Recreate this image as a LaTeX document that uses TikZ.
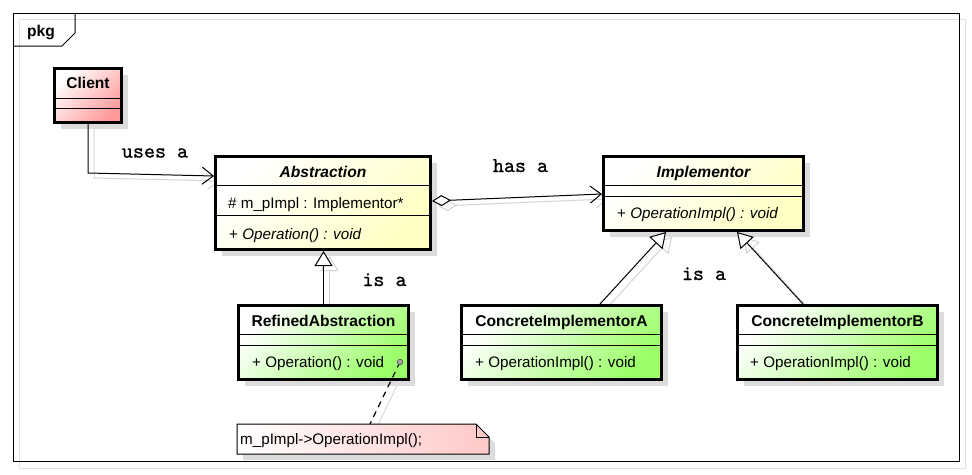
\documentclass[tikz,border=0pt]{standalone}
\usepackage{fontspec}
\setmainfont{Liberation Sans}
\newfontfamily\labfont{lmmono10-regular.otf}[FakeBold=0.8]
\usetikzlibrary{arrows.meta,calc,shadows}
\definecolor{boxshadow}{HTML}{DCDCDC}
\definecolor{lineshadow}{HTML}{D4D4D4}
\definecolor{frameshadow}{HTML}{E2E2E2}
\definecolor{clientred}{HTML}{FF9A9A}
\definecolor{abstrYellow}{HTML}{FFFFC4}
\definecolor{concGreen}{HTML}{9CFF6A}
\definecolor{notePink}{HTML}{FFC8C8}
\newcommand{\regtext}{\fontsize{15.2}{17}\selectfont}
\newcommand{\boldtext}{\fontsize{15.6}{17}\selectfont\bfseries}
\newcommand{\labtext}{\fontsize{21}{22}\selectfont\labfont}
\begin{document}
\begin{tikzpicture}[x=1pt,y=-1pt,
  classbox/.style={draw=black, line width=3pt, inner sep=0pt, anchor=north west,
    drop shadow={shadow xshift=6pt, shadow yshift=-6pt, fill=boxshadow, opacity=1}},
  redbox/.style={classbox, top color=white, bottom color=clientred, shading angle=45},
  yellowbox/.style={classbox, top color=white, bottom color=abstrYellow, shading angle=45},
  greenbox/.style={classbox, top color=white, bottom color=concGreen, shading angle=45},
  sepline/.style={line width=1pt, black},
  titletext/.style={anchor=base, inner sep=0pt, font=\boldtext},
  itemtext/.style={anchor=base west, inner sep=0pt, font=\regtext},
  lbl/.style={inner sep=0pt, font=\labtext},
  assoc/.style={line width=1pt, -{Straight Barb[length=11pt, width=17pt, line width=1pt]}},
  aggr/.style={line width=1pt, {Diamond[open, length=19pt, width=11pt, line width=1pt, fill=white]}-{Straight Barb[length=11pt, width=17pt, line width=1pt]}},
  gener/.style={line width=1pt, -{Triangle[open, length=15pt, width=18pt, line width=1pt, fill=white]}},
  shadowline/.style={draw=lineshadow, transform canvas={shift={(6,5)}}},
]
\useasboundingbox (0,0) rectangle (972,474);
\fill[white] (0,0) rectangle (972,474);

% package frame
\draw[frameshadow, line width=1pt] (19.5,19.5) rectangle (965,468);
\draw[black, line width=1pt] (13,13) rectangle (959,461);
\draw[black, line width=1pt] (13,46) -- (62,46) -- (75,33) -- (75,13);
\node[anchor=base, inner sep=0pt, font=\boldtext] (pkg) at (41,36.5) {pkg};

% coordinates for connectors
\coordinate (c1) at (88,173);
\coordinate (absL) at (214,176);
\coordinate (absR) at (432,201);
\coordinate (impL) at (602,194);
\coordinate (impA) at (666,232);
\coordinate (impB) at (737,232);
\coordinate (absB) at (323.5,251);
\coordinate (refT) at (323.5,304);
\coordinate (caT) at (600,304);
\coordinate (cbT) at (803,304);
\coordinate (dotc) at (400,362);
\coordinate (noteT) at (370,424);

% connector shadows
\draw[shadowline, line width=1pt, -{Straight Barb[length=11pt, width=17pt, line width=1pt]}] (88,124) -- (c1) -- (absL);
\draw[shadowline, line width=1pt, {Diamond[open, length=19pt, width=11pt, line width=1pt, fill=white]}-{Straight Barb[length=11pt, width=17pt, line width=1pt]}] (absR) -- (impL);
\draw[shadowline, line width=1pt, -{Triangle[open, length=15pt, width=18pt, line width=1pt, fill=white]}] (refT) -- (absB);
\draw[shadowline, line width=1pt, -{Triangle[open, length=15pt, width=18pt, line width=1pt, fill=white]}] (caT) -- (impA);
\draw[shadowline, line width=1pt, -{Triangle[open, length=15pt, width=18pt, line width=1pt, fill=white]}] (cbT) -- (impB);
\draw[shadowline, line width=0.8pt] (dotc) -- (noteT);

% Client
\node[redbox, minimum width=67pt, minimum height=54pt] (cl) at (53,67) {};
\draw[sepline] ($(cl.north west)+(0,31)$) -- ($(cl.north east)+(0,31)$);
\draw[sepline] ($(cl.north west)+(0,41)$) -- ($(cl.north east)+(0,41)$);
\node[titletext] (clT) at (88,88.3) {Client};

% Abstraction
\node[yellowbox, minimum width=215pt, minimum height=93pt] (abs) at (214,155) {};
\draw[sepline] ($(abs.north west)+(0,30)$) -- ($(abs.north east)+(0,30)$);
\draw[sepline] ($(abs.north west)+(0,60)$) -- ($(abs.north east)+(0,60)$);
\node[titletext] (absT) at (323,177) {\itshape Abstraction};
\node[itemtext] (absA) at (228,208) {\# m\_pImpl : Implementor*};
\node[itemtext] (absO) at (229,239) {+ \itshape Operation() : void};

% Implementor
\node[yellowbox, minimum width=200pt, minimum height=74pt] (imp) at (602,155) {};
\draw[sepline] ($(imp.north west)+(0,30)$) -- ($(imp.north east)+(0,30)$);
\draw[sepline] ($(imp.north west)+(0,41)$) -- ($(imp.north east)+(0,41)$);
\node[titletext] (impT) at (703.5,177) {\itshape Implementor};
\node[itemtext] (impO) at (617,218) {+ \itshape OperationImpl() : void};

% RefinedAbstraction
\node[greenbox, minimum width=170pt, minimum height=74pt] (ref) at (237,304) {};
\draw[sepline] ($(ref.north west)+(0,30)$) -- ($(ref.north east)+(0,30)$);
\draw[sepline] ($(ref.north west)+(0,41)$) -- ($(ref.north east)+(0,41)$);
\node[titletext] (refT2) at (323.5,326.5) {RefinedAbstraction};
\node[itemtext] (refO) at (252,367) {+ Operation() : void};

% ConcreteImplementorA
\node[greenbox, minimum width=200pt, minimum height=74pt] (ca) at (460,304) {};
\draw[sepline] ($(ca.north west)+(0,30)$) -- ($(ca.north east)+(0,30)$);
\draw[sepline] ($(ca.north west)+(0,41)$) -- ($(ca.north east)+(0,41)$);
\node[titletext] (caTt) at (561.5,326.5) {ConcreteImplementorA};
\node[itemtext] (caO) at (475,367) {+ OperationImpl() : void};

% ConcreteImplementorB
\node[greenbox, minimum width=200pt, minimum height=74pt] (cb) at (736,304) {};
\draw[sepline] ($(cb.north west)+(0,30)$) -- ($(cb.north east)+(0,30)$);
\draw[sepline] ($(cb.north west)+(0,41)$) -- ($(cb.north east)+(0,41)$);
\node[titletext] (cbTt) at (837.5,326.5) {ConcreteImplementorB};
\node[itemtext] (cbO) at (750,367) {+ OperationImpl() : void};

% Note
\fill[boxshadow] (243,430) -- (482,430) -- (495,443) -- (495,460) -- (243,460) -- cycle;
\shade[left color=white, right color=notePink] (237,424) -- (476,424) -- (489,437) -- (489,454) -- (237,454) -- cycle;
\draw[line width=1pt] (237,424) -- (476,424) -- (489,437) -- (489,454) -- (237,454) -- cycle;
\draw[line width=1pt] (476,424) -- (476,437) -- (489,437);
\node[anchor=base west, inner sep=0pt, font=\regtext] (note) at (240,444) {m\_pImpl->OperationImpl();};

% main connectors
\draw[assoc] (cl.south) -- (c1) -- (absL);
\draw[aggr] (absR) -- (impL);
\draw[gener] (refT) -- (absB);
\draw[gener] (caT) -- (impA);
\draw[gener] (cbT) -- (impB);
\draw[line width=1.2pt, dash pattern=on 6pt off 5pt] (dotc) -- (noteT);
\fill[gray!70, draw=black!70, line width=0.6pt] (dotc) circle (2.8pt);

% labels
\node[lbl] (usesa) at (155,153) {uses a};
\node[lbl, anchor=base] (hasa) at (520.5,172) {has a};
\node[lbl, anchor=base] (isa1) at (384.5,286) {is a};
\node[lbl, anchor=base] (isa2) at (704,280) {is a};
\end{tikzpicture}
\end{document}
